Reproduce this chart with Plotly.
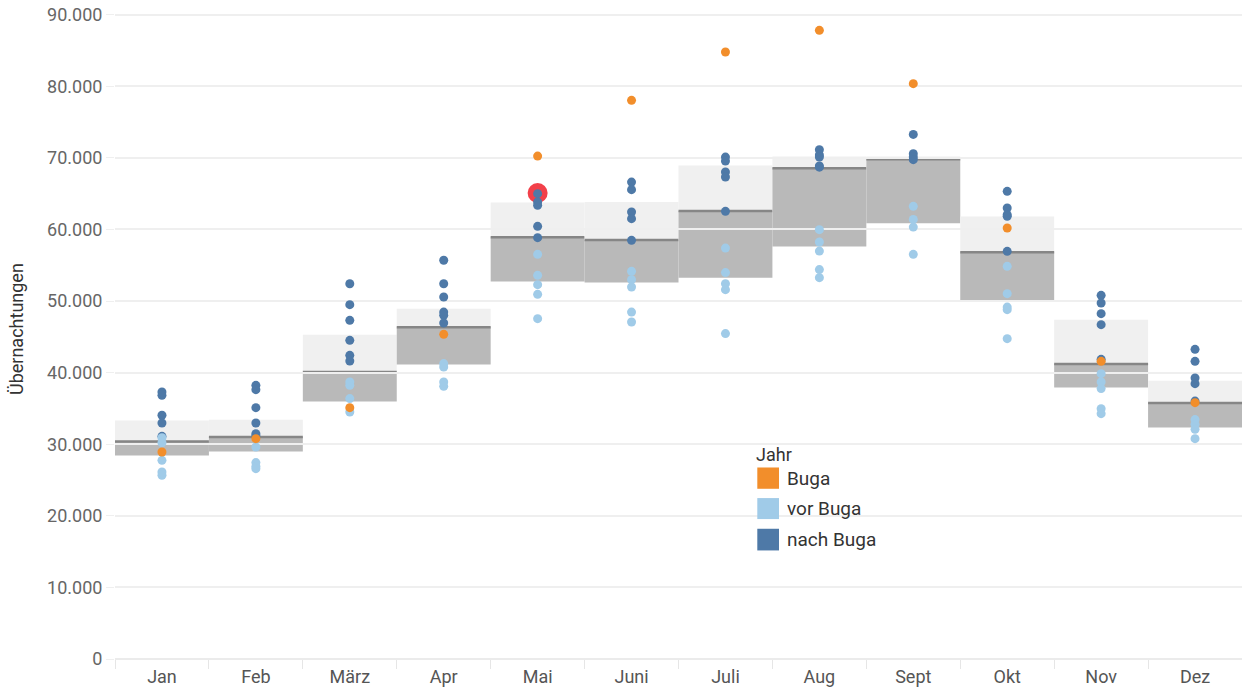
import plotly.graph_objects as go

months = ["Jan", "Feb", "März", "Apr", "Mai", "Juni", "Juli", "Aug", "Sept", "Okt", "Nov", "Dez"]

# band statistics per month (upper edge, median line, lower edge)
band_top = [33315, 33412, 45281, 48911, 63753, 63851, 68919, 70176, 70176, 61798, 47375, 38858]
band_mid = [30383, 30997, 40073, 46356, 58922, 58531, 62594, 68556, 69813, 56828, 41190, 35744]
band_low = [28428, 28986, 35967, 41134, 52723, 52583, 53239, 57610, 60877, 50070, 37922, 32337]

# Buga year (one value per month)
buga = [28910, 30780, 35110, 45350, 70250, 78030, 84780, 87810, 80360, 60200, 41580, 35810]

# years before Buga
vor_buga = {
    "Jan": [30920, 30200, 27750, 26120, 25660],
    "Feb": [29610, 27430, 26900, 26590],
    "März": [38690, 38230, 36370, 34500],
    "Apr": [41260, 40780, 38690, 38090],
    "Mai": [56520, 53590, 52290, 50940, 47540],
    "Juni": [54150, 52990, 51960, 48460, 47070],
    "Juli": [57400, 53970, 52430, 51590, 45450],
    "Aug": [59970, 58240, 56980, 54390, 53270],
    "Sept": [63230, 61400, 60330, 56520],
    "Okt": [54850, 51030, 49160, 48800, 44750],
    "Nov": [39860, 38690, 37770, 34970, 34270],
    "Dez": [33440, 32780, 32080, 30780],
}

# years after Buga
nach_buga = {
    "Jan": [37290, 36830, 34040, 32960, 31100],
    "Feb": [38230, 37620, 35110, 32960, 31480, 31200],
    "März": [52420, 49490, 47300, 44510, 42420, 41620],
    "Apr": [55700, 52420, 50560, 48460, 48000, 46930],
    "Mai": [65000, 63830, 63370, 60430, 58850],
    "Juni": [66620, 65560, 62430, 61510, 58480],
    "Juli": [70110, 69550, 68020, 67320, 62530],
    "Aug": [71140, 70400, 70110, 68860, 68700],
    "Sept": [73280, 70590, 70110, 69750],
    "Okt": [65320, 62990, 62050, 61830, 56940],
    "Nov": [50800, 49720, 48240, 46700, 41860],
    "Dez": [43250, 41580, 39250, 38460, 36030],
}

highlight_month = ["Mai"]
highlight_value = [65090]

y_ticks = [0, 10000, 20000, 30000, 40000, 50000, 60000, 70000, 80000, 90000]

C_BUGA = "#f28e2b"
C_VOR = "#a0cbe8"
C_NACH = "#4e79a7"
FONT = "Roboto, Arial, sans-serif"

fig = go.Figure()

# highlight circle (drawn first, under the points)
fig.add_trace(go.Scatter(x=highlight_month, y=highlight_value, mode="markers",
                         marker=dict(size=20, color="#f2404a"), showlegend=False,
                         hoverinfo="skip"))

def flat(d):
    xs, ys = [], []
    for m in months:
        for v in d[m]:
            xs.append(m)
            ys.append(v)
    return xs, ys

xn, yn = flat(nach_buga)
xv, yv = flat(vor_buga)

fig.add_trace(go.Scatter(x=xn, y=yn, mode="markers", name="nach Buga",
                         marker=dict(size=9, color=C_NACH), showlegend=False))
fig.add_trace(go.Scatter(x=xv, y=yv, mode="markers", name="vor Buga",
                         marker=dict(size=9, color=C_VOR), showlegend=False))
fig.add_trace(go.Scatter(x=months, y=buga, mode="markers", name="Buga",
                         marker=dict(size=9, color=C_BUGA), showlegend=False))

# bands
for i, m in enumerate(months):
    fig.add_shape(type="rect", xref="x", yref="y", x0=i - 0.5, x1=i + 0.5,
                  y0=band_mid[i], y1=band_top[i], fillcolor="#f0f0f0",
                  line=dict(width=0), layer="below")
    fig.add_shape(type="rect", xref="x", yref="y", x0=i - 0.5, x1=i + 0.5,
                  y0=band_low[i], y1=band_mid[i], fillcolor="#b9b9b9",
                  line=dict(width=0), layer="below")
    fig.add_shape(type="line", xref="x", yref="y", x0=i - 0.5, x1=i + 0.5,
                  y0=band_mid[i], y1=band_mid[i],
                  line=dict(width=2.5, color="#868686"), layer="below")

# manual legend
L = 115
W = 1127
H = 659.3
def px(x):
    return (x - L) / W
def py(y):
    return (H - y) / H

fig.add_annotation(x=px(754), y=py(455), xref="paper", yref="paper", text="Jahr",
                   showarrow=False, xanchor="left", yanchor="middle",
                   font=dict(family=FONT, size=18, color="#333333"))
legend_items = [("Buga", C_BUGA, 467.7, 489), ("vor Buga", C_VOR, 498.3, 519.3),
                ("nach Buga", C_NACH, 529, 550.7)]
for label, col, top, bot in legend_items:
    fig.add_shape(type="rect", xref="paper", yref="paper", x0=px(757.3), x1=px(779),
                  y0=py(bot), y1=py(top), fillcolor=col, line=dict(width=0))
    fig.add_annotation(x=px(785), y=py((top + bot) / 2), xref="paper", yref="paper",
                       text=label, showarrow=False, xanchor="left", yanchor="middle",
                       font=dict(family=FONT, size=19, color="#333333"))

# y axis title
fig.add_annotation(x=0, y=0.5, xref="paper", yref="paper", xshift=-111,
                   text="Übernachtungen", textangle=-90, showarrow=False,
                   font=dict(family=FONT, size=18, color="#333333"))

fig.update_layout(
    width=1242, height=687,
    margin=dict(l=115, r=0, t=0, b=28),
    plot_bgcolor="white", paper_bgcolor="white",
    separators=",.",
    font=dict(family=FONT, size=18, color="#666666"),
    showlegend=False,
)
fig.update_xaxes(type="category", categoryorder="array", categoryarray=months,
                 range=[-0.5, 11.5], showgrid=False, ticks="outside",
                 tickson="boundaries", ticklen=9, tickcolor="#e6e6e6",
                 showline=False, zeroline=False, ticklabelstandoff=5,
                 tickfont=dict(family=FONT, size=18, color="#555555"))
fig.update_yaxes(range=[0, 92050], tickvals=y_ticks, tickformat=",d",
                 showgrid=True, gridcolor="#efefef", gridwidth=1.5,
                 zeroline=True, zerolinecolor="#ebebeb", zerolinewidth=1.5,
                 ticks="outside", ticklen=8, tickcolor="#efefef",
                 showline=False,
                 tickfont=dict(family=FONT, size=18, color="#666666"))

fig.write_html("out.html", config={"displayModeBar": False},
               post_script="document.body.style.margin='0px';document.body.style.overflow='hidden';")
